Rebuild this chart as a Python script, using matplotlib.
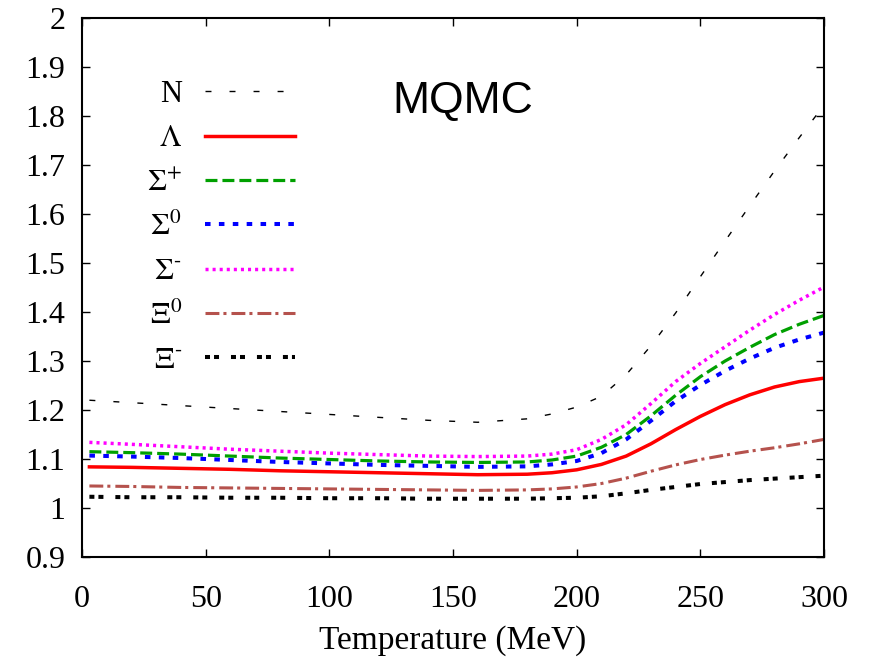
import matplotlib
matplotlib.use("Agg")
import matplotlib.pyplot as plt

# data
temperature = [3, 20, 40, 60, 80, 100, 120, 140, 160, 180, 190, 200, 210,
               220, 230, 240, 250, 260, 270, 280, 290, 300]

m_N = [1.220, 1.215, 1.209, 1.203, 1.197, 1.191, 1.185, 1.179, 1.175, 1.182,
       1.192, 1.206, 1.228, 1.272, 1.331, 1.398, 1.472, 1.545, 1.617, 1.688,
       1.756, 1.822]
m_Lambda = [1.084, 1.083, 1.081, 1.079, 1.076, 1.074, 1.072, 1.070, 1.068,
            1.069, 1.072, 1.078, 1.089, 1.106, 1.131, 1.160, 1.187, 1.211,
            1.231, 1.247, 1.258, 1.265]
m_Sigma_p = [1.115, 1.113, 1.110, 1.106, 1.102, 1.099, 1.096, 1.094, 1.093,
             1.094, 1.098, 1.106, 1.124, 1.150, 1.188, 1.230, 1.268, 1.300,
             1.328, 1.354, 1.375, 1.393]
m_Sigma_0 = [1.107, 1.105, 1.102, 1.098, 1.094, 1.091, 1.088, 1.086, 1.084,
             1.085, 1.089, 1.096, 1.112, 1.140, 1.178, 1.218, 1.251, 1.280,
             1.305, 1.327, 1.344, 1.358]
m_Sigma_m = [1.134, 1.130, 1.125, 1.120, 1.116, 1.112, 1.109, 1.106, 1.105,
             1.106, 1.110, 1.119, 1.140, 1.170, 1.213, 1.258, 1.295, 1.329,
             1.363, 1.395, 1.424, 1.451]
m_Xi_0 = [1.045, 1.044, 1.042, 1.041, 1.040, 1.039, 1.038, 1.037, 1.036,
          1.037, 1.039, 1.043, 1.050, 1.061, 1.075, 1.088, 1.099, 1.108,
          1.116, 1.123, 1.131, 1.140]
m_Xi_m = [1.023, 1.022, 1.022, 1.021, 1.021, 1.020, 1.020, 1.019, 1.019,
          1.019, 1.020, 1.021, 1.024, 1.030, 1.037, 1.043, 1.049, 1.053,
          1.057, 1.060, 1.063, 1.066]

labels = ["N", r"$\Lambda$", r"$\Sigma^{+}$", r"$\Sigma^{0}$", r"$\Sigma^{\text{-}}$",
          r"$\Xi^{0}$", r"$\Xi^{\text{-}}$"]

plt.rcParams["font.family"] = ["Liberation Serif", "DejaVu Serif"]
plt.rcParams["mathtext.fontset"] = "stix"
plt.rcParams["lines.scale_dashes"] = False

fig = plt.figure(figsize=(8.73, 6.64), dpi=100)
ax = fig.add_axes([0.0939, 0.1611, 0.8500, 0.8118])

series = [m_N, m_Lambda, m_Sigma_p, m_Sigma_0, m_Sigma_m, m_Xi_0, m_Xi_m]
styles = [
    dict(color="black", lw=1.0, dashes=(4.3, 13)),
    dict(color="#ff0000", lw=2.5, ls="-"),
    dict(color="#00a000", lw=2.3, dashes=(8.6, 3.6)),
    dict(color="#0000ff", lw=2.9, dashes=(4.0, 6.0)),
    dict(color="#ff00ff", lw=2.5, dashes=(2.2, 2.9)),
    dict(color="#b5524d", lw=2.2, dashes=(10, 2.9, 2.2, 3.6)),
    dict(color="black", lw=2.9, dashes=(3.6, 2.9, 3.6, 8.6)),
]
for y, lab, st in zip(series, labels, styles):
    ax.plot(temperature, y, label=lab, **st)

ax.set_xlim(0, 300)
ax.set_ylim(0.9, 2.0)
ax.set_xticks(range(0, 301, 50))
ax.set_yticks([0.9 + 0.1 * i for i in range(12)])
ax.set_yticklabels(["0.9", "1", "1.1", "1.2", "1.3", "1.4", "1.5", "1.6",
                    "1.7", "1.8", "1.9", "2"])
ax.tick_params(direction="in", length=6, width=1, top=True, right=True,
               labelsize=23)
ax.tick_params(axis="y", pad=12)
ax.tick_params(axis="x", pad=20)
for sp in ax.spines.values():
    sp.set_linewidth(1.5)

ax.set_xlabel("Temperature (MeV)", fontsize=24, labelpad=8)

ax.text(154, 1.83, "MQMC", fontsize=32, family="Liberation Sans",
        ha="center", va="center")

ax.legend(loc="upper right", bbox_to_anchor=(0.287, 0.885), frameon=False,
          markerfirst=False, fontsize=22, handlelength=2.95, handletextpad=0.75,
          labelspacing=0.5, borderpad=0, borderaxespad=0)

fig.savefig("out.png", dpi=100)
